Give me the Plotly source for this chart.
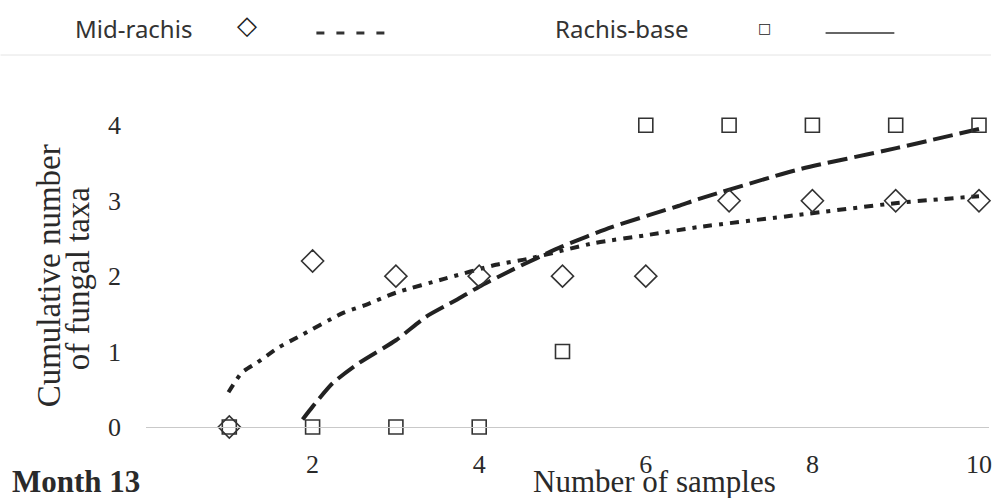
import plotly.graph_objects as go

# ---- data ----
samples = [1, 2, 3, 4, 5, 6, 7, 8, 9, 10]
mid_obs = [0, 2.2, 2.0, 2.0, 2.0, 2.0, 3.0, 3.0, 3.0, 3.0]
base_obs = [0, 0, 0, 0, 1, 4, 4, 4, 4, 4]

mid_curve_x = [0.99, 1.15, 1.33, 1.60, 1.82, 2.36, 2.64, 3.00, 3.60, 4.20, 4.59, 5.39, 5.99, 6.63, 7.82, 9.02, 10.0]
mid_curve_y = [0.46, 0.72, 0.85, 1.06, 1.19, 1.51, 1.62, 1.78, 1.97, 2.15, 2.23, 2.44, 2.54, 2.65, 2.81, 2.97, 3.06]

base_curve_x = [1.88, 2.0, 2.24, 2.56, 3.0, 3.36, 3.72, 4.0, 4.39, 4.99, 5.59, 6.39, 6.63, 7.82, 9.02, 10.0]
base_curve_y = [0.10, 0.27, 0.58, 0.85, 1.15, 1.46, 1.68, 1.86, 2.08, 2.39, 2.65, 2.93, 3.02, 3.41, 3.70, 3.95]

x_ticks = [2, 4, 6, 8, 10]
y_ticks = [0, 1, 2, 3, 4]

# ---- layout geometry helpers (pixels -> paper) ----
W, H = 994, 498
L, R, T, B = 146, 2, 80, 71
PW, PH = W - L - R, H - T - B


def px(x):
    return (x - L) / PW


def py(y):
    return (H - B - y) / PH


SERIF = "Liberation Serif, Times New Roman, serif"
SANS = "Noto Sans, DejaVu Sans, sans-serif"
INK = "#2a2a2a"

fig = go.Figure()

fig.add_trace(go.Scatter(
    x=mid_curve_x, y=mid_curve_y, mode="lines",
    line=dict(color="#222", width=4, dash="9px,7px,4px,7px", shape="spline", smoothing=0.6),
    showlegend=False, hoverinfo="skip"))
fig.add_trace(go.Scatter(
    x=base_curve_x, y=base_curve_y, mode="lines",
    line=dict(color="#222", width=4, dash="20px,7px", shape="spline", smoothing=0.6),
    showlegend=False, hoverinfo="skip"))
fig.add_trace(go.Scatter(
    x=samples, y=base_obs, mode="markers", name="Rachis-base",
    marker=dict(symbol="square-open", size=14, color="#333", line=dict(width=1.6, color="#333")),
    cliponaxis=False, showlegend=False))
fig.add_trace(go.Scatter(
    x=samples, y=mid_obs, mode="markers", name="Mid-rachis",
    marker=dict(symbol="diamond-open", size=17, color="#333", line=dict(width=1.6, color="#333")),
    cliponaxis=False, showlegend=False))

annotations = [
    dict(text="Cumulative number", x=px(49), y=py(276), textangle=-90,
         font=dict(family=SERIF, size=33, color=INK)),
    dict(text="of fungal taxa", x=px(78), y=py(278), textangle=-90,
         font=dict(family=SERIF, size=33, color=INK)),
    dict(text="Number of samples", x=px(656), y=py(481),
         font=dict(family=SERIF, size=31, color=INK)),
    dict(text="<b>Month 13</b>", x=px(10), y=py(481), xanchor="left",
         font=dict(family=SERIF, size=31, color=INK)),
    dict(text="Mid-rachis", x=px(73), y=py(28), xanchor="left",
         font=dict(family=SANS, size=24, color="#333")),
    dict(text="Rachis-base", x=px(554), y=py(28), xanchor="left",
         font=dict(family=SANS, size=24, color="#333")),
    dict(text="◇", x=px(247), y=py(25),
         font=dict(family="DejaVu Sans", size=26, color="#222")),
    dict(text="□", x=px(767), y=py(28),
         font=dict(family="DejaVu Sans", size=14, color="#222")),
]
for a in annotations:
    a.update(xref="paper", yref="paper", showarrow=False)
    a.setdefault("xanchor", "center")
    a.setdefault("yanchor", "middle")

shapes = [
    dict(type="line", xref="paper", yref="paper", x0=px(317), x1=px(390), y0=py(33), y1=py(33),
         line=dict(color="#333", width=3, dash="8px,12px")),
    dict(type="line", xref="paper", yref="paper", x0=px(828), x1=px(897), y0=py(33), y1=py(33),
         line=dict(color="#333", width=1.5)),
    dict(type="line", xref="paper", yref="paper", x0=px(0), x1=px(W), y0=py(55), y1=py(55),
         line=dict(color="#e4e4e4", width=1)),
]

fig.update_layout(
    width=W, height=H,
    margin=dict(l=L, r=R, t=T, b=B),
    paper_bgcolor="white", plot_bgcolor="white",
    showlegend=False,
    annotations=annotations,
    shapes=shapes,
    xaxis=dict(range=[0, 10.12], tickvals=x_ticks, ticktext=[str(v) for v in x_ticks],
               showgrid=False, zeroline=False, showline=True, linecolor="#c9c9c9", linewidth=1,
               ticks="", ticklabelstandoff=14, ticklabeloverflow="allow",
               tickfont=dict(family=SERIF, size=26, color=INK)),
    yaxis=dict(range=[0, 4.6], tickvals=y_ticks, ticktext=[str(v) for v in y_ticks],
               showgrid=False, zeroline=False, showline=False, ticks="",
               ticklabelstandoff=24,
               tickfont=dict(family=SERIF, size=26, color=INK)),
)

fig.write_html(
    "out.html",
    config={"displayModeBar": False},
    post_script="document.body.style.margin='0';document.body.style.overflow='hidden';",
)
